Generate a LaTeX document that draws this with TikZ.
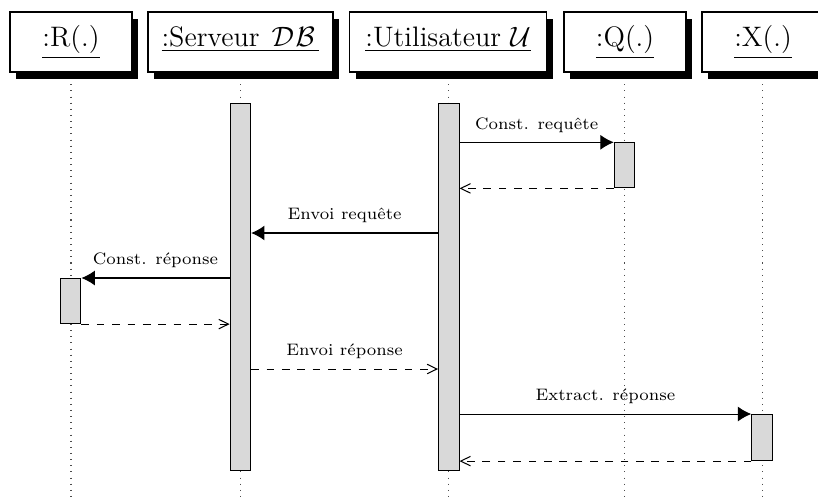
\documentclass[tikz,border=0pt]{standalone}
\usetikzlibrary{arrows.meta,shadows}

\tikzset{
  hdr/.style={draw, fill=white, line width=0.45pt, inner xsep=0pt, inner ysep=0pt,
    text height=13.5pt, text depth=9.96pt, anchor=base, font=\fontsize{11}{13.5}\selectfont,
    minimum width=47.7pt,
    drop shadow={shadow xshift=2.5pt, shadow yshift=-2.6pt, fill=black, opacity=1}},
  bar/.style={draw, fill=gray!30, line width=0.4pt, minimum width=8pt,
    inner sep=0pt, anchor=north},
  life/.style={dotted, line width=0.4pt, black!70},
  call/.style={-{Latex[length=5.2pt,width=5.8pt]}, line width=0.4pt},
  ret/.style={dashed, -{Straight Barb[length=3.8pt,width=3.7pt]}, line width=0.4pt},
  lbl/.style={font=\fontsize{6.5}{8}\selectfont, anchor=base, yshift=5.1pt, inner sep=0pt}
}

\begin{document}
\begin{tikzpicture}[x=0.3906pt, y=-0.3906pt]
  \useasboundingbox (0,0) rectangle (818,499);
  \clip (0,0) rectangle (818,499);

  % lifelines
  \coordinate (lR) at (71,499);
  \coordinate (lS) at (240.5,499);
  \coordinate (lU) at (448.8,499);
  \coordinate (lQ) at (624.5,499);
  \coordinate (lX) at (762,499);
  \draw[life] (71,72) -- (lR);
  \draw[life] (240.5,72) -- (lS);
  \draw[life] (448.8,72) -- (lU);
  \draw[life] (624.5,72) -- (lQ);
  \draw[life] (762,72) -- (lX);

  % object headers
  \node[hdr] (hR) at (71,46.5) {\underline{:R(.)}};
  \node[hdr, minimum width=72.3pt] (hS) at (240.5,46.5)
    {\underline{:Serveur \hspace{0.1em}$\mathcal{D}\mkern1mu\mathcal{B}\mkern3mu$}};
  \node[hdr, minimum width=77pt] (hU) at (448,46.5) {\underline{:Utilisateur $\mathcal{U}$}};
  \node[hdr] (hQ) at (625,46.5) {\underline{:Q(.)}};
  \node[hdr] (hX) at (763,46.5) {\underline{:X(.)}};

  % activation bars
  \node[bar, minimum height=143.5pt] (bS) at (240.4,102.7) {};
  \node[bar, minimum height=143.5pt] (bU) at (448.8,102.7) {};
  \node[bar, minimum height=17.6pt] (bQ) at (624.5,142.3) {};
  \node[bar, minimum height=17.6pt] (bR) at (70.7,278) {};
  \node[bar, minimum height=18pt] (bX) at (762,414) {};

  \coordinate (mReq) at (0,233);
  \coordinate (mRep) at (0,369);

  % messages
  \draw[call] (bU.east |- bQ.north west) -- node[lbl] {Const. requête} (bQ.north west);
  \draw[ret] (bQ.south west) -- (bU.east |- bQ.south west);

  \draw[call] (bU.west |- mReq) -- node[lbl] {Envoi requête} (bS.east |- mReq);

  \draw[call] (bS.west |- bR.north east) -- node[lbl] {Const. réponse} (bR.north east);
  \draw[ret] (bR.south east) -- (bS.west |- bR.south east);

  \draw[ret] (bS.east |- mRep) -- node[lbl] {Envoi réponse} (bU.west |- mRep);

  \draw[call] (bU.east |- bX.north west) -- node[lbl] {Extract. réponse} (bX.north west);
  \draw[ret] (bX.south west) -- (bU.east |- bX.south west);
\end{tikzpicture}
\end{document}
